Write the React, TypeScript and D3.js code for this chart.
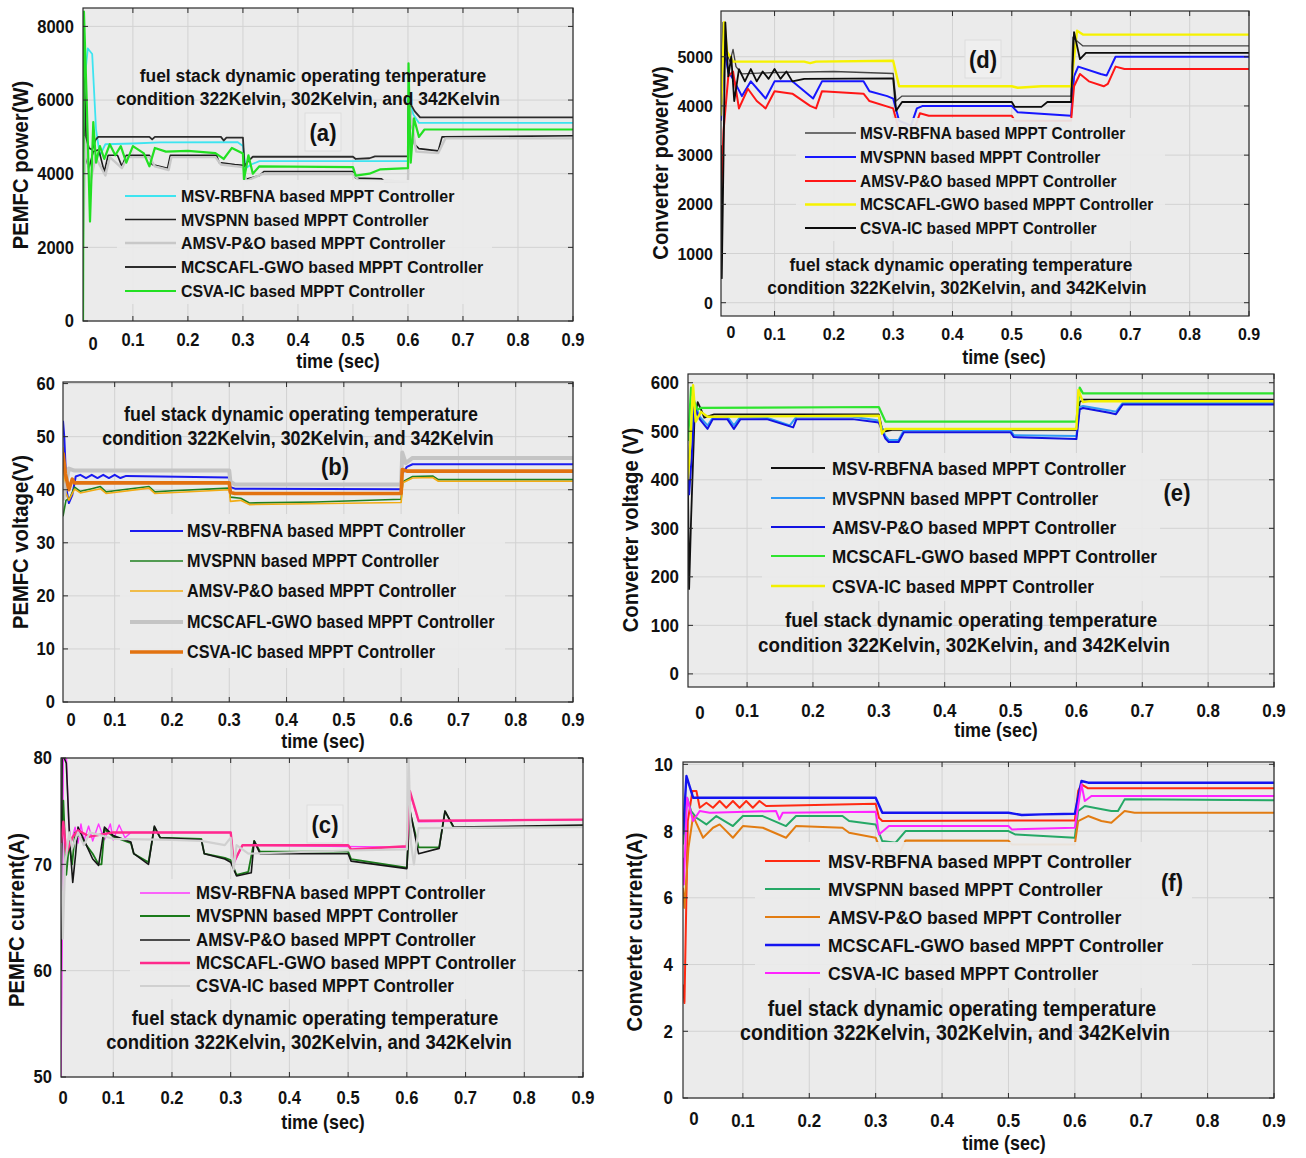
import React from 'react';
import * as d3 from 'd3';

type Pt = [number, number];

const TIME_TICKS = [0.1, 0.2, 0.3, 0.4, 0.5, 0.6, 0.7, 0.8, 0.9];
const CONTROLLERS = [
  'MSV-RBFNA based MPPT Controller',
  'MVSPNN based MPPT Controller',
  'AMSV-P&O based MPPT Controller',
  'MCSCAFL-GWO based MPPT Controller',
  'CSVA-IC based MPPT Controller',
];
const NOTE = ['fuel stack dynamic operating temperature', 'condition 322Kelvin, 302Kelvin, and 342Kelvin'];
const X_TITLE = 'time (sec)';

// (a) PEMFC power (W)
const aTicks = [0, 2000, 4000, 6000, 8000];
const aRbfna: Pt[] = [[0.0093,3000],[0.012,6500],[0.018,7400],[0.026,7250],[0.033,5200],[0.04,4500],[0.05,4800],[0.1,4820],[0.15,4850],[0.29,4860],[0.3,4750],[0.305,4150],[0.315,4250],[0.33,4340],[0.6,4340],[0.602,6000],[0.61,5600],[0.62,5380],[0.9,5380]];
const aMvspnn: Pt[] = [[0.0093,6000],[0.013,4500],[0.02,4150],[0.028,4600],[0.038,4650],[0.048,4050],[0.055,4500],[0.072,4500],[0.08,4200],[0.088,4500],[0.13,4500],[0.135,4250],[0.163,4150],[0.168,4500],[0.252,4500],[0.257,4300],[0.285,4250],[0.3,4230],[0.305,3850],[0.33,3950],[0.338,4060],[0.5,4060],[0.505,3880],[0.552,3860],[0.558,3780],[0.6,3780],[0.602,6000],[0.612,4800],[0.62,4680],[0.655,4620],[0.662,5000],[0.9,5030]];
const aAmsv: Pt[] = [[0.0093,2000],[0.014,5000],[0.022,3700],[0.032,4450],[0.05,3950],[0.058,4450],[0.08,4150],[0.09,4450],[0.13,4450],[0.14,4200],[0.165,4100],[0.17,4450],[0.25,4450],[0.26,4250],[0.3,4180],[0.306,3800],[0.335,3990],[0.5,4000],[0.51,3820],[0.6,3790],[0.603,5800],[0.615,4600],[0.655,4560],[0.668,4960],[0.9,4960]];
const aMcscafl: Pt[] = [[0.0093,7300],[0.011,6800],[0.015,5000],[0.02,4700],[0.026,4650],[0.032,4920],[0.037,5000],[0.13,5000],[0.135,4930],[0.14,5000],[0.26,5000],[0.265,4900],[0.27,4980],[0.3,4980],[0.303,4200],[0.31,4350],[0.318,4460],[0.5,4460],[0.505,4400],[0.53,4420],[0.54,4470],[0.6,4470],[0.601,6000],[0.612,5700],[0.622,5530],[0.9,5530]];
const aCsva: Pt[] = [[0.0093,0],[0.011,8400],[0.016,6000],[0.022,2700],[0.028,5400],[0.033,4300],[0.04,4750],[0.048,4400],[0.058,4800],[0.068,4500],[0.078,4750],[0.088,4300],[0.1,4750],[0.12,4550],[0.13,4200],[0.14,4700],[0.16,4600],[0.2,4620],[0.25,4560],[0.265,4400],[0.28,4700],[0.3,4550],[0.302,3850],[0.31,4500],[0.318,4000],[0.33,4200],[0.5,4180],[0.505,3950],[0.53,4000],[0.55,4120],[0.6,4150],[0.601,7000],[0.605,4300],[0.611,5500],[0.62,5000],[0.63,5200],[0.9,5200]];

// (d) converter power (W)
const dTicks = [0, 1000, 2000, 3000, 4000, 5000];
const dRbfna: Pt[] = [[0.0097,4500],[0.013,5700],[0.018,5100],[0.025,4900],[0.03,5150],[0.035,4800],[0.045,4650],[0.1,4680],[0.2,4700],[0.3,4660],[0.305,4100],[0.315,4200],[0.6,4200],[0.603,5400],[0.612,5300],[0.62,5220],[0.9,5220]];
const dMvspnn: Pt[] = [[0.0097,3700],[0.015,5150],[0.022,4700],[0.03,4550],[0.045,4200],[0.06,4500],[0.085,4150],[0.1,4500],[0.13,4500],[0.165,4150],[0.18,4500],[0.25,4500],[0.26,4300],[0.29,4200],[0.3,4150],[0.31,3700],[0.33,3600],[0.34,3950],[0.35,4000],[0.5,4000],[0.51,3870],[0.6,3800],[0.605,4600],[0.612,4800],[0.65,4650],[0.66,4620],[0.675,5000],[0.9,5000]];
const dAmsv: Pt[] = [[0.0097,2100],[0.014,3500],[0.022,4600],[0.03,4700],[0.04,3950],[0.055,4350],[0.07,4100],[0.085,3950],[0.1,4300],[0.13,4250],[0.16,4000],[0.17,3950],[0.18,4300],[0.25,4250],[0.26,4100],[0.3,3950],[0.31,3500],[0.335,3500],[0.345,3850],[0.36,3800],[0.5,3800],[0.505,3700],[0.6,3700],[0.605,4400],[0.615,4650],[0.63,4500],[0.655,4400],[0.662,4450],[0.675,4800],[0.69,4750],[0.9,4750]];
const dMcscafl: Pt[] = [[0.0097,3800],[0.015,5700],[0.02,5100],[0.03,4900],[0.15,4900],[0.16,4870],[0.17,4900],[0.3,4920],[0.31,4400],[0.5,4400],[0.51,4370],[0.55,4400],[0.6,4400],[0.61,5530],[0.62,5450],[0.9,5450]];
const dCsva: Pt[] = [[0.0097,3200],[0.011,500],[0.014,3000],[0.017,5700],[0.022,4600],[0.027,5000],[0.032,4100],[0.04,4750],[0.05,4500],[0.06,4750],[0.07,4500],[0.08,4700],[0.09,4550],[0.1,4750],[0.11,4550],[0.12,4700],[0.13,4500],[0.15,4550],[0.3,4560],[0.305,3900],[0.315,4080],[0.5,4080],[0.505,3980],[0.55,3980],[0.56,4080],[0.6,4080],[0.605,5500],[0.615,4950],[0.625,5080],[0.9,5080]];

// (b) PEMFC voltage (V)
const bTicks = [0, 10, 20, 30, 40, 50, 60];
const bRbfna: Pt[] = [[0.0098,53],[0.012,50],[0.016,40],[0.02,37.5],[0.026,39],[0.032,42.5],[0.04,42.8],[0.05,42.2],[0.06,42.8],[0.07,42.2],[0.08,42.8],[0.09,42.2],[0.1,42.8],[0.11,42.2],[0.12,42.6],[0.3,42.3],[0.302,40.5],[0.31,40.2],[0.6,40.1],[0.602,43],[0.61,44.3],[0.62,44.8],[0.9,44.8]];
const bMvspnn: Pt[] = [[0.0098,35],[0.015,38],[0.022,38.5],[0.03,40.5],[0.04,39.7],[0.06,40.2],[0.075,40.6],[0.085,39.6],[0.1,39.8],[0.16,40.6],[0.17,39.6],[0.2,39.8],[0.3,40.3],[0.302,38.6],[0.32,38.4],[0.335,37.5],[0.45,37.7],[0.6,38.2],[0.603,41.5],[0.62,42.5],[0.655,42.6],[0.665,41.9],[0.9,41.9]];
const bAmsv: Pt[] = [[0.0098,48],[0.013,40],[0.02,38],[0.03,40.1],[0.04,39.4],[0.075,40.2],[0.085,39.3],[0.16,40.3],[0.17,39.3],[0.3,40],[0.302,37.8],[0.32,38],[0.335,37.2],[0.6,37.6],[0.603,41.3],[0.62,42.2],[0.655,42.3],[0.665,41.6],[0.9,41.6]];
const bMcscafl: Pt[] = [[0.0098,38],[0.015,41],[0.02,44],[0.03,43.6],[0.3,43.6],[0.302,41.5],[0.31,41],[0.6,41],[0.602,47],[0.608,45],[0.62,46],[0.9,46]];
const bCsva: Pt[] = [[0.0098,47],[0.014,43],[0.02,40],[0.026,42],[0.03,41.3],[0.3,41.3],[0.302,39.5],[0.31,39.3],[0.6,39.3],[0.602,43.8],[0.61,43.5],[0.9,43.5]];

// (e) converter voltage (V)
const eTicks = [0, 100, 200, 300, 400, 500, 600];
const eRbfna: Pt[] = [[0.0103,380],[0.012,175],[0.015,320],[0.02,520],[0.025,560],[0.03,545],[0.035,528],[0.05,535],[0.3,535],[0.305,505],[0.31,500],[0.32,503],[0.6,503],[0.605,560],[0.61,565],[0.9,565]];
const eMvspnn: Pt[] = [[0.0103,420],[0.015,500],[0.02,560],[0.028,530],[0.04,512],[0.048,528],[0.07,530],[0.08,512],[0.09,530],[0.13,528],[0.165,512],[0.175,530],[0.26,530],[0.3,522],[0.31,490],[0.315,482],[0.33,482],[0.338,502],[0.5,502],[0.505,492],[0.6,490],[0.605,550],[0.61,552],[0.65,543],[0.66,540],[0.67,558],[0.9,558]];
const eAmsv: Pt[] = [[0.0103,400],[0.012,370],[0.016,450],[0.02,550],[0.028,525],[0.04,505],[0.048,525],[0.07,525],[0.08,505],[0.09,525],[0.13,525],[0.17,508],[0.175,525],[0.26,525],[0.3,518],[0.31,485],[0.315,478],[0.33,478],[0.338,498],[0.5,498],[0.505,488],[0.6,484],[0.605,545],[0.61,548],[0.65,538],[0.66,535],[0.67,555],[0.9,555]];
const eMcscafl: Pt[] = [[0.0103,480],[0.015,590],[0.02,560],[0.025,545],[0.03,548],[0.3,550],[0.31,520],[0.6,520],[0.605,590],[0.61,578],[0.9,578]];
const eCsva: Pt[] = [[0.0103,400],[0.014,480],[0.018,595],[0.022,520],[0.03,540],[0.04,530],[0.3,532],[0.305,495],[0.31,505],[0.6,505],[0.603,585],[0.61,560],[0.62,562],[0.9,562]];

// (c) PEMFC current (A)
const cTicks = [50, 60, 70, 80];
const cRbfna: Pt[] = [[0.011,50],[0.013,62],[0.015,80.5],[0.02,80.5],[0.024,74],[0.028,72],[0.035,73.5],[0.04,72],[0.045,73.8],[0.05,72.2],[0.058,73.6],[0.065,72.2],[0.075,73.8],[0.085,72.3],[0.095,73.8],[0.1,72.3],[0.11,73.7],[0.12,72.5],[0.13,73],[0.3,73],[0.305,70],[0.32,71.8],[0.6,71.6],[0.605,76.8],[0.62,74],[0.9,74.2]];
const cMvspnn: Pt[] = [[0.011,70],[0.015,76],[0.02,69],[0.025,72],[0.03,70],[0.035,73],[0.045,72.5],[0.065,71],[0.075,70],[0.08,70],[0.085,73.3],[0.1,72.6],[0.13,72],[0.135,71],[0.16,70.2],[0.17,73.5],[0.18,72.5],[0.25,72.4],[0.255,71],[0.29,70.6],[0.3,70.4],[0.31,69],[0.33,69.3],[0.34,72.2],[0.35,71.2],[0.5,71.2],[0.505,70.5],[0.6,69.7],[0.605,75],[0.62,71.6],[0.655,71.6],[0.665,75],[0.68,73.4],[0.9,73.6]];
const cAmsv: Pt[] = [[0.011,60],[0.013,80.5],[0.02,79.5],[0.026,72],[0.031,68.3],[0.036,71],[0.04,73.5],[0.05,72.3],[0.065,70.5],[0.075,69.9],[0.085,73.5],[0.1,72.7],[0.13,72.1],[0.135,71],[0.16,70],[0.17,73.6],[0.18,72.5],[0.25,72.3],[0.255,71],[0.29,70.5],[0.3,70.2],[0.31,68.9],[0.335,69.2],[0.34,72.2],[0.35,71],[0.5,71],[0.505,70.3],[0.6,69.6],[0.605,75.2],[0.62,71],[0.655,71.5],[0.665,75],[0.68,73.5],[0.9,73.7]];
const cMcscafl: Pt[] = [[0.011,72],[0.015,74],[0.02,71],[0.03,72.5],[0.04,73.2],[0.06,72.6],[0.1,73],[0.2,73],[0.3,73],[0.305,70.2],[0.32,71.8],[0.5,71.8],[0.505,71.4],[0.6,71.7],[0.605,76.9],[0.62,74.1],[0.9,74.2]];
const cCsva: Pt[] = [[0.011,72],[0.014,63],[0.018,70],[0.025,73],[0.03,71.5],[0.04,73],[0.05,71.8],[0.06,73],[0.1,72.4],[0.2,72.3],[0.25,72.2],[0.29,71.8],[0.3,72.5],[0.305,69.5],[0.31,71.8],[0.33,71],[0.5,71.3],[0.6,71.4],[0.603,80],[0.607,72],[0.612,70],[0.62,73.4],[0.9,73.5]];

// (f) converter current (A)
const fTicks = [0, 2, 4, 6, 8, 10];
const fRbfna: Pt[] = [[0.0098,3.4],[0.012,2.85],[0.017,8.3],[0.024,9.2],[0.03,9.2],[0.035,8.7],[0.045,8.85],[0.055,8.7],[0.065,8.9],[0.075,8.7],[0.085,8.9],[0.095,8.7],[0.105,8.9],[0.115,8.7],[0.125,8.9],[0.135,8.75],[0.3,8.82],[0.305,8.4],[0.31,8.3],[0.6,8.32],[0.605,9.2],[0.61,9.4],[0.62,9.28],[0.9,9.28]];
const fMvspnn: Pt[] = [[0.0098,7.6],[0.016,9.0],[0.022,8.6],[0.03,8.4],[0.045,8.2],[0.06,8.45],[0.085,8.15],[0.1,8.45],[0.13,8.45],[0.165,8.15],[0.18,8.45],[0.25,8.45],[0.26,8.3],[0.3,8.2],[0.31,7.7],[0.33,7.65],[0.345,8.0],[0.5,8.0],[0.51,7.9],[0.6,7.8],[0.605,8.6],[0.615,8.75],[0.655,8.6],[0.665,8.6],[0.675,8.95],[0.9,8.92]];
const fAmsv: Pt[] = [[0.0098,6.3],[0.012,5.7],[0.018,7.5],[0.025,8.45],[0.04,7.8],[0.055,8.1],[0.065,8.2],[0.085,7.8],[0.1,8.15],[0.13,8.1],[0.165,7.8],[0.18,8.15],[0.25,8.1],[0.26,7.95],[0.3,7.8],[0.31,7.3],[0.335,7.3],[0.345,7.72],[0.5,7.71],[0.505,7.6],[0.6,7.6],[0.605,8.3],[0.62,8.45],[0.64,8.3],[0.655,8.25],[0.675,8.6],[0.69,8.55],[0.9,8.55]];
const fMcscafl: Pt[] = [[0.0098,7.9],[0.015,9.65],[0.025,9.0],[0.3,9.0],[0.31,8.55],[0.5,8.55],[0.52,8.48],[0.55,8.5],[0.6,8.52],[0.61,9.5],[0.62,9.45],[0.9,9.45]];
const fCsva: Pt[] = [[0.0098,7.2],[0.011,6.4],[0.016,9.0],[0.025,8.3],[0.035,8.6],[0.05,8.55],[0.15,8.6],[0.155,8.35],[0.16,8.55],[0.3,8.58],[0.305,7.9],[0.32,8.15],[0.5,8.15],[0.505,8.05],[0.6,8.1],[0.61,9.4],[0.615,8.9],[0.625,9.05],[0.9,9.05]];

const PLOT_BG = '#ebebeb';
const GRID = '#d2d2d2';
const FRAME = '#2a2a2a';
const SQUEEZE = 0.92;

const PANELS = [
  {
    id: 'a', tag: '(a)', tagPos: [323, 133], tagBox: true, yTitle: 'PEMFC power(W)',
    box: { left: 83, right: 573, top: 8, bottom: 321 }, t0: 0.0093, yDomain: [0, 8500], yTicks: aTicks,
    series: [aRbfna, aMvspnn, aAmsv, aMcscafl, aCsva],
    colors: ['#3ee4f0', '#1e1e1e', '#c8c8c8', '#2c2c2c', '#22e022'], widths: [1.8, 1.6, 2.4, 1.8, 2.2],
    legend: { x1: 125, x2: 176, tx: 181, rows: [196, 219.5, 243, 267, 291], size: 17.3, box: [117, 180, 492, 304] },
    note: { xs: [313, 308], ys: [75, 98], size: 19 },
    tickSize: 18, tickRow: 340, zero: [0.0275, 344], yLabelX: 74,
    xTitle: [338, 361], yTitlePos: [20, 165],
  },
  {
    id: 'd', tag: '(d)', tagPos: [983, 60], tagBox: true, yTitle: 'Converter power(W)',
    box: { left: 721, right: 1249, top: 11, bottom: 316 }, t0: 0.0097, yDomain: [-270, 5930], yTicks: dTicks,
    series: [dRbfna, dMvspnn, dAmsv, dMcscafl, dCsva],
    colors: ['#444444', '#1616ff', '#ff1616', '#f6f200', '#0c0c0c'], widths: [1.3, 2, 2, 2.4, 1.8],
    legend: { x1: 805, x2: 856, tx: 860, rows: [133, 157, 181, 204.5, 228], size: 16.8, box: [796, 118, 1165, 241] },
    note: { xs: [961, 957], ys: [264, 287], size: 18.8 },
    tickSize: 17.4, tickRow: 334, zero: [0.0266, 332], yLabelX: 713,
    xTitle: [1004, 357], yTitlePos: [660, 163],
  },
  {
    id: 'b', tag: '(b)', tagPos: [335, 467], tagBox: false, yTitle: 'PEMFC voltage(V)',
    box: { left: 63, right: 573, top: 382, bottom: 702 }, t0: 0.0098, yDomain: [0, 60.3], yTicks: bTicks,
    series: [bRbfna, bMvspnn, bAmsv, bMcscafl, bCsva],
    colors: ['#1a1af0', '#1f801f', '#f2ac14', '#c4c4c4', '#e27210'], widths: [2, 1.6, 1.6, 4, 3.6],
    legend: { x1: 130, x2: 183, tx: 187, rows: [531, 561, 591, 622, 652], size: 17.6, box: [120, 514, 505, 668] },
    note: { xs: [301, 298], ys: [414, 438], size: 19.4 },
    tickSize: 18, tickRow: 720, zero: [0.0238, 720], yLabelX: 55,
    xTitle: [323, 741], yTitlePos: [20, 542],
  },
  {
    id: 'e', tag: '(e)', tagPos: [1177, 493], tagBox: false, yTitle: 'Converter voltage (V)',
    box: { left: 688, right: 1274, top: 374, bottom: 687 }, t0: 0.0103, yDomain: [-27, 618], yTicks: eTicks,
    series: [eRbfna, eMvspnn, eAmsv, eMcscafl, eCsva],
    colors: ['#111111', '#2f9af5', '#1212e2', '#2ee42e', '#f2f000'], widths: [1.8, 2, 2, 2.2, 2.4],
    legend: { x1: 771, x2: 825, tx: 832, rows: [468, 498, 527, 556, 586], size: 18.6, box: [762, 453, 1160, 601] },
    note: { xs: [971, 964], ys: [620, 645], size: 20.4 },
    tickSize: 18.4, tickRow: 711, zero: [0.0285, 713], yLabelX: 679,
    xTitle: [996, 730], yTitlePos: [630, 530],
  },
  {
    id: 'c', tag: '(c)', tagPos: [325, 825], tagBox: true, yTitle: 'PEMFC current(A)',
    box: { left: 61, right: 583, top: 758, bottom: 1077 }, t0: 0.011, yDomain: [50, 80], yTicks: cTicks,
    series: [cRbfna, cMvspnn, cAmsv, cMcscafl, cCsva],
    colors: ['#ff36ff', '#1a7a1a', '#161616', '#ff2a8c', '#d0d0d0'], widths: [1.4, 1.8, 1.6, 2.4, 2.2],
    legend: { x1: 140, x2: 190, tx: 196, rows: [893, 916, 940, 963, 986], size: 18.3, box: [130, 879, 522, 999] },
    note: { xs: [315, 309], ys: [1018, 1042], size: 20.1 },
    tickSize: 18, tickRow: 1098, zero: [0.0144, 1098], yLabelX: 52,
    xTitle: [323, 1122], yTitlePos: [16, 920],
  },
  {
    id: 'f', tag: '(f)', tagPos: [1172, 883], tagBox: false, yTitle: 'Converter current(A)',
    box: { left: 683, right: 1274, top: 762, bottom: 1098 }, t0: 0.0098, yDomain: [0, 10.07], yTicks: fTicks,
    series: [fRbfna, fMvspnn, fAmsv, fMcscafl, fCsva],
    colors: ['#ff2a12', '#25a866', '#e27c12', '#1414f0', '#ff24ff'], widths: [2, 2, 2, 2.4, 2],
    legend: { x1: 765, x2: 820, tx: 828, rows: [861, 889, 917, 945, 973], size: 19.2, box: [755, 842, 1192, 988] },
    note: { xs: [962, 955], ys: [1009, 1033], size: 21.3 },
    tickSize: 18.4, tickRow: 1121, zero: [0.0264, 1119], yLabelX: 673,
    xTitle: [1004, 1143], yTitlePos: [634, 932],
  },
];

function Label({ x, y, size, anchor = 'middle', rotate = 0, children }: any) {
  return (
    <text
      transform={`translate(${x},${y}) rotate(${rotate}) scale(${SQUEEZE},1)`}
      fontSize={size}
      fontWeight="bold"
      textAnchor={anchor}
      dy="0.35em"
      fill="#111"
    >
      {children}
    </text>
  );
}

function Panel({ p }: any) {
  const { box, legend: lg } = p;
  const x = d3.scaleLinear().domain([p.t0, 0.9]).range([box.left, box.right]);
  const y = d3.scaleLinear().domain(p.yDomain).range([box.bottom, box.top]);
  const line = d3.line<Pt>().x((d) => x(d[0])).y((d) => y(d[1]));
  const clip = `clip-${p.id}`;
  const w = box.right - box.left;
  const h = box.bottom - box.top;

  return (
    <g>
      <defs>
        <clipPath id={clip}>
          <rect x={box.left} y={box.top} width={w} height={h} />
        </clipPath>
      </defs>
      <rect x={box.left} y={box.top} width={w} height={h} fill={PLOT_BG} />
      {TIME_TICKS.map((t) => (
        <line key={'gx' + t} x1={x(t)} x2={x(t)} y1={box.top} y2={box.bottom} stroke={GRID} />
      ))}
      {p.yTicks.map((v: number) => (
        <line key={'gy' + v} x1={box.left} x2={box.right} y1={y(v)} y2={y(v)} stroke={GRID} />
      ))}

      <g clipPath={`url(#${clip})`}>
        {p.series.map((s: Pt[], i: number) => (
          <path
            key={i}
            d={line(s) || ''}
            fill="none"
            stroke={p.colors[i]}
            strokeWidth={p.widths[i]}
            strokeLinejoin="round"
          />
        ))}
      </g>

      <rect
        x={lg.box[0]}
        y={lg.box[1]}
        width={lg.box[2] - lg.box[0]}
        height={lg.box[3] - lg.box[1]}
        fill={PLOT_BG}
        fillOpacity={0.93}
      />
      {CONTROLLERS.map((name, i) => (
        <g key={name}>
          <line
            x1={lg.x1}
            x2={lg.x2}
            y1={lg.rows[i]}
            y2={lg.rows[i]}
            stroke={p.colors[i]}
            strokeWidth={p.widths[i]}
          />
          <Label x={lg.tx} y={lg.rows[i]} size={lg.size} anchor="start">{name}</Label>
        </g>
      ))}

      {NOTE.map((s, i) => (
        <Label key={s} x={p.note.xs[i]} y={p.note.ys[i]} size={p.note.size}>{s}</Label>
      ))}

      {p.tagBox && (
        <rect
          x={p.tagPos[0] - 18}
          y={p.tagPos[1] - 20}
          width={36}
          height={38}
          fill="#efefef"
          stroke="#dddddd"
        />
      )}
      <Label x={p.tagPos[0]} y={p.tagPos[1]} size={24}>{p.tag}</Label>

      <rect x={box.left} y={box.top} width={w} height={h} fill="none" stroke={FRAME} strokeWidth={1.2} />
      {TIME_TICKS.map((t) => (
        <g key={'tx' + t}>
          <line x1={x(t)} x2={x(t)} y1={box.bottom} y2={box.bottom - 5} stroke={FRAME} />
          <line x1={x(t)} x2={x(t)} y1={box.top} y2={box.top + 5} stroke={FRAME} />
          <Label x={x(t)} y={p.tickRow} size={p.tickSize}>{String(t)}</Label>
        </g>
      ))}
      <Label x={x(p.zero[0])} y={p.zero[1]} size={p.tickSize}>0</Label>
      {p.yTicks.map((v: number) => (
        <g key={'ty' + v}>
          <line x1={box.left} x2={box.left + 5} y1={y(v)} y2={y(v)} stroke={FRAME} />
          <line x1={box.right} x2={box.right - 5} y1={y(v)} y2={y(v)} stroke={FRAME} />
          <Label x={p.yLabelX} y={y(v)} size={p.tickSize} anchor="end">{String(v)}</Label>
        </g>
      ))}

      <Label x={p.xTitle[0]} y={p.xTitle[1]} size={19.5}>{X_TITLE}</Label>
      <Label x={p.yTitlePos[0]} y={p.yTitlePos[1]} size={22}>{''}</Label>
      <Label x={p.yTitlePos[0]} y={p.yTitlePos[1]} size={22} rotate={-90}>{p.yTitle}</Label>
    </g>
  );
}

export default function App() {
  return (
    <svg
      width={1306}
      height={1158}
      style={{ position: 'absolute', left: 0, top: 0, background: '#fff' }}
      fontFamily="'Liberation Sans', Arial, Helvetica, sans-serif"
    >
      {PANELS.map((p) => (
        <Panel key={p.id} p={p} />
      ))}
    </svg>
  );
}
